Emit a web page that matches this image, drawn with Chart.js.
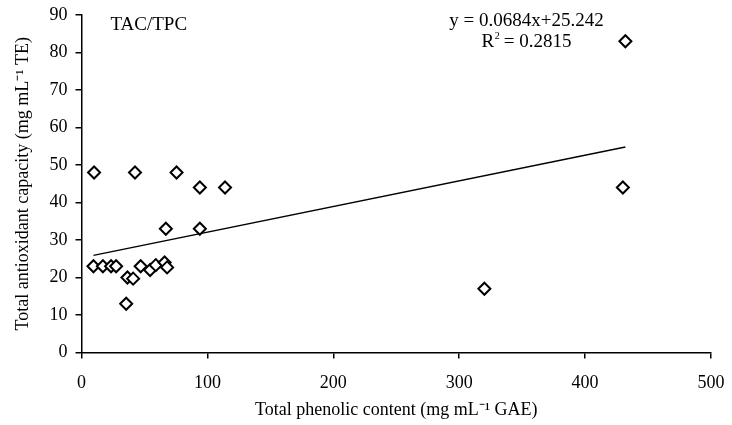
<!DOCTYPE html>
<html>
<head>
<meta charset="utf-8">
<script src="https://cdn.jsdelivr.net/npm/chart.js@4.4.1/dist/chart.umd.min.js"></script>
<style>
  html, body { margin: 0; padding: 0; background: #fff; }
  #wrap { width: 732px; height: 425px; }
</style>
</head>
<body>
<div id="wrap"><canvas id="tacChart" width="732" height="425"></canvas></div>
<script>
// Values
const phenolic = [10, 42.5, 75.5, 94, 114, 67, 94, 9.5, 17, 23.5, 27.5, 36.5, 41, 35.5, 47, 54.5, 59, 66, 68, 320, 430, 432];
const antiox   = [48, 48, 48, 44, 44, 33, 33, 23, 23, 23, 23, 20, 19.7, 13, 23, 22, 23.3, 24, 22.7, 17, 44, 83];

// Trend line end points (at min and max x)
const trendX = [9.5, 432];
const trendY = [25.9, 54.8];

const xTicks = [0, 100, 200, 300, 400, 500];
const yTicks = [0, 10, 20, 30, 40, 50, 60, 70, 80, 90];

const serif = '"Liberation Serif", "Times New Roman", serif';

// Text labels drawn on the chart area
const textPlugin = {
  id: 'textLabels',
  afterDraw(chart) {
    const c = chart.ctx;
    const area = chart.chartArea;
    const cx = area.left + 445;
    c.save();
    c.fillStyle = '#000';
    c.font = '19px ' + serif;
    c.textBaseline = 'middle';
    c.textAlign = 'left';
    c.fillText('TAC/TPC', area.left + 29, area.top + 10);
    c.textAlign = 'center';
    c.fillText('y = 0.0684x+25.242', cx, area.top + 6);
    c.fillText('R  = 0.2815', cx, area.top + 27);
    // superscript 2 after the R
    const full = c.measureText('R  = 0.2815').width;
    const rW = c.measureText('R').width;
    c.font = '10px ' + serif;
    c.textAlign = 'left';
    c.fillText('2', cx - full / 2 + rW + 0.5, area.top + 21);
    c.restore();
  }
};

const points = phenolic.map((x, i) => ({ x: x, y: antiox[i] }));
const trend = trendX.map((x, i) => ({ x: x, y: trendY[i] }));

new Chart(document.getElementById('tacChart'), {
  type: 'scatter',
  data: {
    datasets: [
      {
        label: 'TAC/TPC',
        data: points,
        pointStyle: 'rectRot',
        pointRadius: 6,
        pointHoverRadius: 6,
        pointBackgroundColor: '#fff',
        pointBorderColor: '#000',
        pointBorderWidth: 2,
        order: 1
      },
      {
        label: 'Linear',
        type: 'line',
        data: trend,
        borderColor: '#000',
        borderWidth: 1.5,
        pointRadius: 0,
        fill: false,
        order: 2
      }
    ]
  },
  options: {
    responsive: false,
    animation: false,
    layout: { padding: { top: 15, right: 21, left: 0, bottom: 0 } },
    plugins: {
      legend: { display: false },
      tooltip: { enabled: false }
    },
    scales: {
      x: {
        type: 'linear',
        min: 0,
        max: 500,
        afterBuildTicks: axis => { axis.ticks = xTicks.map(v => ({ value: v })); },
        afterFit: axis => {
          axis.height = 72.5;
          axis.paddingLeft = 0;
          axis.paddingRight = 0;
        },
        grid: { drawOnChartArea: false, drawTicks: true, tickLength: 6, color: '#000', lineWidth: 1.5 },
        border: { color: '#000', width: 1.5 },
        ticks: { color: '#000', font: { family: serif, size: 18 }, padding: 14, maxRotation: 0 },
        title: {
          display: true,
          text: 'Total phenolic content (mg mL\u207B\u00B9 GAE)',
          color: '#000',
          font: { family: serif, size: 18 },
          padding: { top: 5 }
        }
      },
      y: {
        type: 'linear',
        min: 0,
        max: 90,
        afterBuildTicks: axis => { axis.ticks = yTicks.map(v => ({ value: v })); },
        afterFit: axis => {
          axis.width = 81.5;
          axis.paddingTop = 0;
          axis.paddingBottom = 0;
        },
        grid: { drawOnChartArea: false, drawTicks: true, tickLength: 6, color: '#000', lineWidth: 1.5 },
        border: { color: '#000', width: 1.5 },
        ticks: { color: '#000', font: { family: serif, size: 18 }, padding: 8 },
        title: {
          display: true,
          text: 'Total antioxidant capacity (mg mL\u207B\u00B9 TE)',
          color: '#000',
          font: { family: serif, size: 18 },
          padding: { top: 12 }
        }
      }
    }
  },
  plugins: [textPlugin]
});
</script>
</body>
</html>
